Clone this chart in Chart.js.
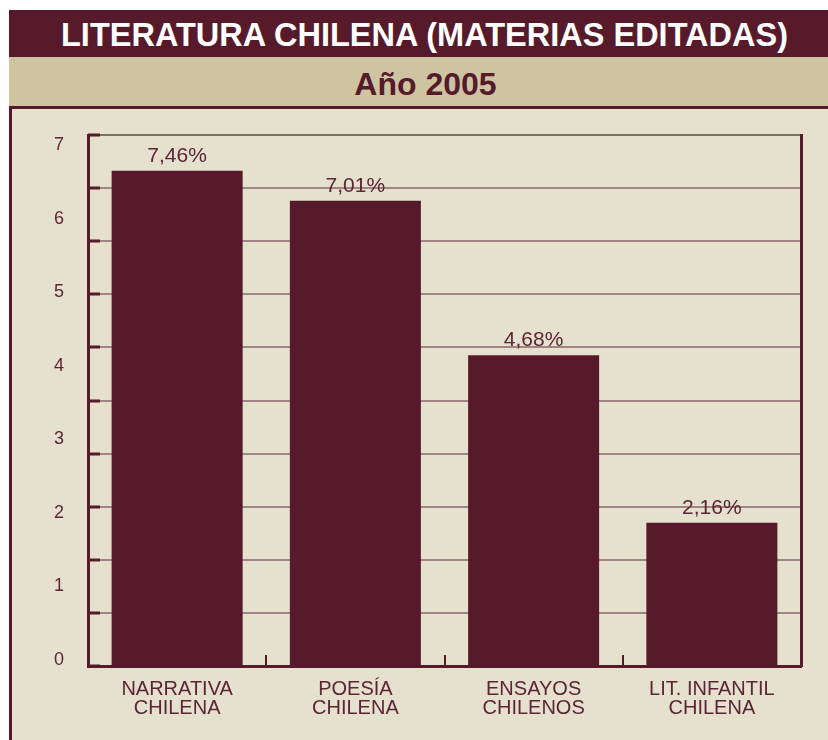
<!DOCTYPE html>
<html>
<head>
<meta charset="utf-8">
<script src="https://cdn.jsdelivr.net/npm/chart.js@4.4.1/dist/chart.umd.min.js"></script>
<style>
    body { margin: 0; background: #ffffff; width: 828px; height: 740px; overflow: hidden; position: relative; font-family: "Liberation Sans", Arial, sans-serif; }
    #title-band { position: absolute; left: 9px; top: 10px; width: 807px; padding-left: 12px; height: 47px; background: #561a2a; color: #ffffff; font-weight: bold; font-size: 32.5px; line-height: 50px; text-align: center; }
    #sub-band { position: absolute; left: 9px; top: 57px; width: 805px; padding-left: 14px; height: 49px; background: #cec4a2; color: #561a2a; font-weight: bold; font-size: 32px; line-height: 54px; text-align: center; }
    #panel { position: absolute; left: 9px; top: 106px; width: 816px; height: 631px; background: #e6e0ce; border-left: 3px solid #561a2a; border-top: 3px solid #561a2a; }
    #panel canvas { position: absolute; left: 0; top: 0; }
</style>
</head>
<body>
<div id="title-band">LITERATURA CHILENA (MATERIAS EDITADAS)</div>
<div id="sub-band">Año 2005</div>
<div id="panel"><canvas id="chart" width="816" height="631"></canvas></div>
<script>
const categories = [
    ['NARRATIVA', 'CHILENA'],
    ['POESÍA', 'CHILENA'],
    ['ENSAYOS', 'CHILENOS'],
    ['LIT. INFANTIL', 'CHILENA']
];
const percentages = [7.46, 7.01, 4.68, 2.16];
const yTickLabels = [0, 1, 2, 3, 4, 5, 6, 7];

const MAROON = '#561a2a';
const TEXT = '#5c2536';
const FONT = '"Liberation Sans", Arial, sans-serif';

function formatPct(v) {
    return v.toFixed(2).replace('.', ',') + '%';
}

// value labels above bars + short inner tick marks
const decorations = {
    id: 'decorations',
    afterDatasetsDraw(chart) {
        const ctx = chart.ctx;
        const area = chart.chartArea;
        const y = chart.scales.y;
        const x = chart.scales.x;

        ctx.save();
        ctx.strokeStyle = MAROON;
        ctx.lineWidth = 3;
        y.ticks.forEach((t) => {
            const py = Math.round(y.getPixelForValue(t.value));
            ctx.beginPath();
            ctx.moveTo(area.left, py);
            ctx.lineTo(area.left + 12, py);
            ctx.stroke();
        });
        ctx.lineWidth = 2;
        for (let i = 1; i < categories.length; i++) {
            const px = Math.round((x.getPixelForValue(i - 1) + x.getPixelForValue(i)) / 2);
            ctx.beginPath();
            ctx.moveTo(px, area.bottom);
            ctx.lineTo(px, area.bottom - 11);
            ctx.stroke();
        }

        ctx.fillStyle = TEXT;
        ctx.font = '21px ' + FONT;
        ctx.textAlign = 'center';
        ctx.textBaseline = 'alphabetic';
        chart.getDatasetMeta(0).data.forEach((bar, i) => {
            ctx.fillText(formatPct(percentages[i]), bar.x, bar.y - 9);
        });
        ctx.restore();
    }
};

new Chart(document.getElementById('chart'), {
    type: 'bar',
    data: {
        labels: categories,
        datasets: [{
            data: percentages,
            backgroundColor: MAROON,
            borderWidth: 0,
            barPercentage: 0.735,
            categoryPercentage: 1,
            yAxisID: 'y'
        }]
    },
    options: {
        responsive: false,
        animation: false,
        devicePixelRatio: 1,
        layout: { padding: { top: 26, right: 27, bottom: 0, left: 42 } },
        plugins: { legend: { display: false }, tooltip: { enabled: false } },
        scales: {
            x: {
                grid: { display: false, drawTicks: false },
                border: { display: true, color: MAROON, width: 3 },
                ticks: {
                    color: TEXT,
                    font: { family: FONT, size: 20, lineHeight: 0.96 },
                    padding: 14,
                    maxRotation: 0,
                    autoSkip: false
                },
                afterFit(scale) { scale.height = 74; }
            },
            y: {
                position: 'left',
                weight: 0,
                min: 0,
                max: 8,
                ticks: { display: false, stepSize: 0.8 },
                grid: {
                    drawTicks: false,
                    lineWidth: 2,
                    color: (c) => (c.tick && c.tick.value >= 7.99 ? '#78716b' : '#a08586')
                },
                border: { display: true, color: MAROON, width: 3 },
                afterFit(scale) { scale.width = 0; }
            },
            yLabels: {
                position: 'left',
                weight: 1,
                min: -0.082,
                max: 7.136,
                grid: { display: false, drawTicks: false },
                border: { display: false },
                ticks: {
                    color: TEXT,
                    font: { family: FONT, size: 18 },
                    padding: 0,
                    crossAlign: 'far'
                },
                afterBuildTicks(axis) {
                    axis.ticks = yTickLabels.map((v) => ({ value: v }));
                },
                afterFit(scale) { scale.width = 34; }
            },
            yRight: {
                position: 'right',
                min: 0,
                max: 1,
                ticks: { display: false },
                grid: { display: false, drawTicks: false },
                border: { display: true, color: MAROON, width: 3 },
                afterFit(scale) { scale.width = 0; }
            }
        }
    },
    plugins: [decorations]
});
</script>
</body>
</html>
